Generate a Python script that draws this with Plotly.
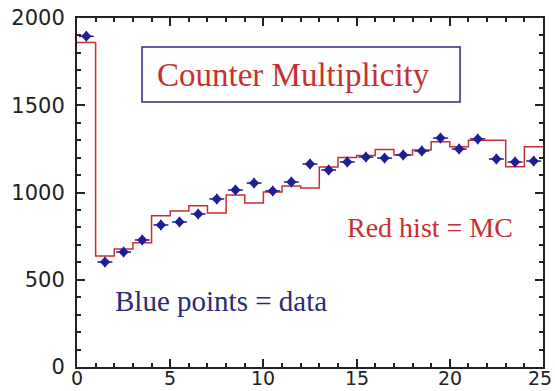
import plotly.graph_objects as go

# Bin edges and centres (counter multiplicity 0..25)
bin_edges = list(range(0, 26))
bin_centres = [i + 0.5 for i in range(25)]

# Data (blue points)
data_counts = [1895, 602, 659, 728, 814, 831, 877, 963, 1014, 1054, 1009, 1060, 1163,
               1129, 1175, 1203, 1197, 1215, 1238, 1312, 1249, 1307, 1192, 1175, 1180]
data_err_y = 30
data_err_x = 0.4

# Monte Carlo histogram (red)
mc_counts = [1860, 636, 676, 712, 867, 894, 924, 883, 986, 940, 1003, 1037, 1026,
             1146, 1200, 1212, 1247, 1215, 1243, 1291, 1262, 1300, 1300, 1148, 1262]

y_ticks = [0, 500, 1000, 1500, 2000]
x_ticks = [0, 5, 10, 15, 20, 25]
x_tick_labels = ["0", "5", "10", "15", "20", "25"]

RED = "#c83030"
BLUE = "#1e1e96"
NAVY = "#2a2a7a"

fig = go.Figure()

fig.add_trace(go.Scatter(
    x=bin_edges, y=mc_counts + [mc_counts[-1]],
    mode="lines", line=dict(color=RED, width=1.5, shape="hv"),
    showlegend=False, hoverinfo="skip"))

fig.add_trace(go.Scatter(
    x=bin_centres, y=data_counts, mode="markers",
    marker=dict(symbol="diamond", size=8, color=BLUE),
    error_y=dict(type="constant", value=data_err_y, color=BLUE, thickness=1.5, width=0),
    error_x=dict(type="constant", value=data_err_x, color=BLUE, thickness=1.5, width=0),
    showlegend=False))

tick_font = dict(family="DejaVu Sans", size=21, color="#222222")
x_tick_font = dict(family="DejaVu Sans", size=19, color="#222222")
axis_common = dict(
    showgrid=False, zeroline=False, showline=True, linecolor="#222222", linewidth=2,
    mirror="allticks", ticks="inside", ticklen=8, tickwidth=1.5, tickcolor="#222222",
    tickfont=tick_font, automargin=False,
)

# x tick labels drawn as annotations so they sit tight under the axis
x_label_annotations = []
for i, (tv, tl) in enumerate(zip(x_ticks, x_tick_labels)):
    last = i == len(x_ticks) - 1
    x_label_annotations.append(dict(
        x=tv, y=0, xref="x", yref="y", text=tl, showarrow=False, borderpad=0,
        xanchor="right" if last else "center", yanchor="middle",
        xshift=10 if last else 0, yshift=-11, font=x_tick_font))

fig.update_layout(
    width=555, height=391,
    margin=dict(l=77, r=12, t=18, b=24),
    paper_bgcolor="white", plot_bgcolor="white",
    xaxis=dict(range=[0, 25], tickvals=x_ticks, showticklabels=False,
               minor=dict(dtick=1, ticks="inside", ticklen=4, tickcolor="#222222"),
               **axis_common),
    yaxis=dict(range=[0, 2000], tickvals=y_ticks, ticklabelstandoff=6,
               minor=dict(dtick=100, ticks="inside", ticklen=4, tickcolor="#222222"),
               **axis_common),
    shapes=[dict(type="rect", xref="x", yref="y", x0=3.49, x1=20.55, y0=1519, y1=1834,
                 line=dict(color=NAVY, width=1.5), fillcolor="white", layer="below")],
    annotations=x_label_annotations + [
        dict(x=11.64, y=1673, xref="x", yref="y", text="Counter Multiplicity", showarrow=False,
             font=dict(family="Liberation Serif", size=33, color=RED)),
        dict(x=18.94, y=802, xref="x", yref="y", text="Red hist = MC", showarrow=False,
             font=dict(family="Liberation Serif", size=28, color=RED)),
        dict(x=7.73, y=378, xref="x", yref="y", text="Blue points = data", showarrow=False,
             font=dict(family="Liberation Serif", size=29, color=NAVY)),
    ],
)

fig.write_html("out.html", config={"displayModeBar": False},
               post_script="document.body.style.margin='0';document.body.style.padding='0';")
